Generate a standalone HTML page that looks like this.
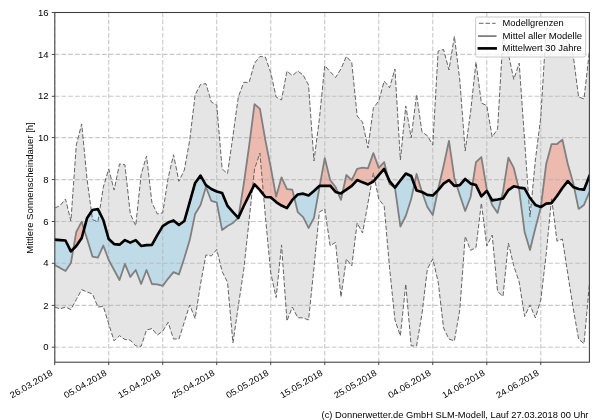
<!DOCTYPE html>
<html><head><meta charset="utf-8"><title>Sonnenscheindauer</title>
<style>html,body{margin:0;padding:0;background:#fff;overflow:hidden}svg{display:block}text{font-family:"Liberation Sans",sans-serif;fill:#000}</style></head>
<body><svg width="600" height="420" viewBox="0 0 600 420">
<rect x="0" y="0" width="600" height="420" fill="#fff"/>
<defs><filter id="soft" x="0" y="0" width="600" height="420" filterUnits="userSpaceOnUse"><feGaussianBlur stdDeviation="0.35"/></filter><clipPath id="ax"><rect x="54.7" y="12.5" width="534.7" height="349.7"/></clipPath></defs>
<g filter="url(#soft)">
<g clip-path="url(#ax)">
<path d="M54.7 208.08 L60.1 205.57 L65.5 199.09 L70.9 221.05 L76.3 144.9 L81.71 123.98 L87.11 179.84 L92.51 219.59 L97.91 221.89 L103.31 187.16 L108.71 168.96 L114.11 190.09 L119.51 163.94 L124.91 164.78 L130.31 213.94 L135.72 225.65 L141.12 174.61 L146.52 155.99 L151.92 202.64 L157.32 213.94 L162.72 212.89 L168.12 178.17 L173.52 154.74 L178.92 181.3 L184.32 170.01 L189.73 140.09 L195.13 94.9 L200.53 84.44 L205.93 83.61 L211.33 102.02 L216.73 104.95 L222.13 168.96 L227.53 173.56 L232.93 135.91 L238.33 97 L243.74 82.35 L249.14 82.35 L254.54 63.11 L259.94 56.41 L265.34 57.04 L270.74 72.52 L276.14 97 L281.54 99.93 L286.94 71.06 L292.34 75.66 L297.75 71.06 L303.15 75.03 L308.55 85.07 L313.95 161.01 L319.35 119.17 L324.75 65.62 L330.15 71.68 L335.55 77.54 L340.95 68.96 L346.35 56.41 L351.76 62.48 L357.16 116.03 L362.56 122.1 L367.96 148.04 L373.36 108.08 L378.76 100.97 L384.16 81.1 L389.56 87.79 L394.96 68.96 L400.36 159.97 L405.77 105.99 L411.17 138 L416.57 94.49 L421.97 131.93 L427.37 135.7 L432.77 144.9 L438.17 50.97 L443.57 49.51 L448.97 70.01 L454.37 36.33 L459.78 80.05 L465.18 150.97 L470.58 112.06 L475.98 62.06 L481.38 103.06 L486.78 105.57 L492.18 136.95 L497.58 129 L502.98 37.37 L508.38 53.9 L513.79 79.42 L519.19 63.11 L524.59 140.09 L529.99 217.08 L535.39 159.97 L540.79 117.08 L546.19 28.38 L551.59 29.22 L556.99 33.4 L562.39 37.58 L567.8 41.77 L573.2 55.37 L578.6 97 L584 98.88 L589.4 51.18 L589.4 284.02 L584 343.64 L578.6 339.04 L573.2 308.08 L567.8 273.98 L562.39 239.04 L556.99 241.14 L551.59 198.04 L546.19 254.11 L540.79 299.92 L535.39 317.91 L529.99 304.94 L524.59 316.45 L519.19 281.93 L513.79 266.03 L508.38 243.02 L502.98 296.36 L497.58 291.55 L492.18 235.07 L486.78 245.95 L481.38 203.06 L475.98 247.62 L470.58 250.34 L465.18 236.32 L459.78 309.96 L454.37 340.92 L448.97 339.04 L443.57 327.95 L438.17 281.93 L432.77 258.92 L427.37 268.96 L421.97 313.94 L416.57 345.94 L411.17 345.94 L405.77 284.02 L400.36 335.9 L394.96 320 L389.56 267.91 L384.16 205.99 L378.76 199.09 L373.36 172.94 L367.96 203.06 L362.56 232.98 L357.16 222.94 L351.76 266.03 L346.35 258.92 L340.95 296.99 L335.55 242.39 L330.15 245.74 L324.75 208.92 L319.35 212.06 L313.95 267.91 L308.55 320 L303.15 317.91 L297.75 317.7 L292.34 307.03 L286.94 321.05 L281.54 244.9 L276.14 297.62 L270.74 272.93 L265.34 216.03 L259.94 153.06 L254.54 168.96 L249.14 220.01 L243.74 269.8 L238.33 305.99 L232.93 343.02 L227.53 282.35 L222.13 271.47 L216.73 249.5 L211.33 255.99 L205.93 254.94 L200.53 284.02 L195.13 318.54 L189.73 304.94 L184.32 322.1 L178.92 339.04 L173.52 339.04 L168.12 322.31 L162.72 331.09 L157.32 335.07 L151.92 328.58 L146.52 330.05 L141.12 346.36 L135.72 345.94 L130.31 340.09 L124.91 339.46 L119.51 335.69 L114.11 340.92 L108.71 323.98 L103.31 306.41 L97.91 307.03 L92.51 294.06 L87.11 291.97 L81.71 289.67 L76.3 299.5 L70.9 309.54 L65.5 307.03 L60.1 308.92 L54.7 307.03Z" fill="rgb(204,204,204)" fill-opacity="0.5"/>
<path d="M54.7 264.98 L60.1 267.91 L65.5 271.05 L70.9 263.1 L73.36 248.91 L73.36 248.91 L70.9 251.39 L65.5 240.51 L60.1 240.09 L54.7 239.67ZM84.06 229.25 L87.11 239.04 L92.51 256.62 L97.91 257.66 L103.31 245.53 L108.71 259.96 L114.11 270.01 L119.51 280.05 L124.91 263.94 L130.31 276.91 L135.72 270.01 L141.12 284.02 L146.52 270.01 L151.92 284.02 L157.32 284.44 L162.72 285.9 L168.12 278.58 L173.52 272.1 L178.92 274.4 L184.32 258.08 L189.73 240.09 L195.13 213.94 L200.53 204.94 L205.93 186.95 L211.33 200.97 L216.73 202.43 L222.13 230.05 L227.53 226.07 L232.93 222.94 L238.33 217.91 L238.33 217.91 L232.93 212.06 L227.53 205.99 L222.13 193.02 L216.73 191.56 L211.33 189.04 L205.93 185.07 L200.53 175.66 L195.13 182.98 L189.73 202.02 L184.32 221.05 L178.92 225.03 L173.52 220.42 L168.12 222.52 L162.72 226.07 L157.32 235.07 L151.92 244.9 L146.52 245.11 L141.12 245.95 L135.72 240.09 L130.31 242.6 L124.91 240.09 L119.51 244.69 L114.11 244.06 L108.71 239.04 L103.31 220.01 L97.91 209.13 L92.51 209.96 L87.11 217.91 L84.06 229.25ZM294.33 197.92 L297.75 212.06 L303.15 217.08 L308.55 227.96 L313.95 217.91 L319.35 188 L319.73 185.91 L319.73 185.91 L319.35 185.91 L313.95 190.93 L308.55 195.53 L303.15 193.65 L297.75 194.48 L294.33 197.92ZM337.91 192.61 L340.95 199.92 L342.61 192.28 L342.61 192.28 L340.95 193.44 L337.91 192.61ZM387.95 177.48 L389.56 184.02 L394.96 187.58 L394.96 187.58 L389.56 181.1 L387.95 177.48ZM394.96 187.58 L400.36 226.49 L405.77 216.03 L411.17 199.09 L414.31 184.48 L414.31 184.48 L411.17 176.07 L405.77 173.56 L400.36 180.47 L394.96 187.58ZM421.97 191.97 L427.37 207.04 L432.77 214.99 L437.9 190.37 L437.9 190.37 L432.77 195.53 L427.37 194.9 L421.97 191.97ZM456.79 185.53 L459.78 194.9 L465.18 211.01 L470.58 196.99 L472.56 184.14 L472.56 184.14 L470.58 183.61 L465.18 179 L459.78 185.07 L456.79 185.53ZM488.08 193.2 L492.18 204.94 L497.58 212.89 L501.22 198.8 L501.22 198.8 L497.58 199.5 L492.18 200.34 L488.08 193.2ZM518.54 187.43 L519.19 190.09 L524.59 231.93 L529.99 249.92 L535.39 227.96 L540.79 207.45 L540.85 207 L540.85 207 L540.79 207.04 L535.39 204.94 L529.99 198.04 L524.59 188.42 L519.19 187.58 L518.54 187.43ZM574.1 187.3 L578.6 208.92 L584 204.94 L589.4 191.97 L589.4 176.07 L584 189.67 L578.6 189.04 L574.1 187.3Z" fill="rgb(135,206,235)" fill-opacity="0.4"/>
<path d="M73.36 248.91 L76.3 231.93 L81.71 221.68 L84.06 229.25 L84.06 229.25 L81.71 238 L76.3 245.95 L73.36 248.91ZM238.33 217.91 L243.74 184.02 L249.14 145.95 L254.54 104.11 L259.94 108.92 L265.34 140.09 L270.74 167.29 L276.14 196.58 L281.54 177.33 L286.94 189.04 L292.34 189.67 L294.33 197.92 L294.33 197.92 L292.34 199.92 L286.94 208.08 L281.54 205.57 L276.14 202.02 L270.74 197.2 L265.34 196.99 L259.94 190.09 L254.54 184.44 L249.14 195.11 L243.74 205.99 L238.33 217.91ZM319.73 185.91 L324.75 158.08 L330.15 180.05 L335.55 186.95 L337.91 192.61 L337.91 192.61 L335.55 191.97 L330.15 185.7 L324.75 185.91 L319.73 185.91ZM342.61 192.28 L346.35 175.03 L351.76 180.05 L357.16 168.96 L362.56 167.71 L367.96 168.33 L373.36 153.06 L378.76 167.92 L384.16 162.06 L387.95 177.48 L387.95 177.48 L384.16 168.96 L378.76 175.03 L373.36 181.51 L367.96 184.44 L362.56 182.35 L357.16 180.05 L351.76 185.91 L346.35 189.67 L342.61 192.28ZM414.31 184.48 L416.57 173.98 L421.97 191.97 L421.97 191.97 L416.57 190.51 L414.31 184.48ZM437.9 190.37 L438.17 189.04 L443.57 166.03 L448.97 140.93 L454.37 177.96 L456.79 185.53 L456.79 185.53 L454.37 185.91 L448.97 180.05 L443.57 183.61 L438.17 190.09 L437.9 190.37ZM472.56 184.14 L475.98 162.06 L481.38 157.04 L486.78 189.46 L488.08 193.2 L488.08 193.2 L486.78 190.93 L481.38 196.37 L475.98 185.07 L472.56 184.14ZM501.22 198.8 L502.98 191.97 L508.38 157.66 L513.79 167.92 L518.54 187.43 L518.54 187.43 L513.79 186.33 L508.38 190.09 L502.98 198.46 L501.22 198.8ZM540.85 207 L546.19 163.94 L551.59 144.07 L556.99 144.07 L562.39 139.67 L567.8 163.94 L573.2 182.98 L574.1 187.3 L574.1 187.3 L573.2 186.95 L567.8 181.1 L562.39 188 L556.99 195.95 L551.59 203.06 L546.19 203.69 L540.85 207Z" fill="rgb(248,122,92)" fill-opacity="0.4"/>
<path d="M54.7 362.2 V12.5M108.71 362.2 V12.5M162.72 362.2 V12.5M216.73 362.2 V12.5M270.74 362.2 V12.5M324.75 362.2 V12.5M378.76 362.2 V12.5M432.77 362.2 V12.5M486.78 362.2 V12.5M540.79 362.2 V12.5M54.7 347.2 H589.4M54.7 305.4 H589.4M54.7 263.3 H589.4M54.7 221.5 H589.4M54.7 179.6 H589.4M54.7 137.6 H589.4M54.7 96.3 H589.4M54.7 54.4 H589.4M54.7 12.5 H589.4" fill="none" stroke="rgb(176,176,176)" stroke-opacity="0.7" stroke-width="1.1" stroke-dasharray="4.7 2.06"/>
<path d="M54.7 208.08 L60.1 205.57 L65.5 199.09 L70.9 221.05 L76.3 144.9 L81.71 123.98 L87.11 179.84 L92.51 219.59 L97.91 221.89 L103.31 187.16 L108.71 168.96 L114.11 190.09 L119.51 163.94 L124.91 164.78 L130.31 213.94 L135.72 225.65 L141.12 174.61 L146.52 155.99 L151.92 202.64 L157.32 213.94 L162.72 212.89 L168.12 178.17 L173.52 154.74 L178.92 181.3 L184.32 170.01 L189.73 140.09 L195.13 94.9 L200.53 84.44 L205.93 83.61 L211.33 102.02 L216.73 104.95 L222.13 168.96 L227.53 173.56 L232.93 135.91 L238.33 97 L243.74 82.35 L249.14 82.35 L254.54 63.11 L259.94 56.41 L265.34 57.04 L270.74 72.52 L276.14 97 L281.54 99.93 L286.94 71.06 L292.34 75.66 L297.75 71.06 L303.15 75.03 L308.55 85.07 L313.95 161.01 L319.35 119.17 L324.75 65.62 L330.15 71.68 L335.55 77.54 L340.95 68.96 L346.35 56.41 L351.76 62.48 L357.16 116.03 L362.56 122.1 L367.96 148.04 L373.36 108.08 L378.76 100.97 L384.16 81.1 L389.56 87.79 L394.96 68.96 L400.36 159.97 L405.77 105.99 L411.17 138 L416.57 94.49 L421.97 131.93 L427.37 135.7 L432.77 144.9 L438.17 50.97 L443.57 49.51 L448.97 70.01 L454.37 36.33 L459.78 80.05 L465.18 150.97 L470.58 112.06 L475.98 62.06 L481.38 103.06 L486.78 105.57 L492.18 136.95 L497.58 129 L502.98 37.37 L508.38 53.9 L513.79 79.42 L519.19 63.11 L524.59 140.09 L529.99 217.08 L535.39 159.97 L540.79 117.08 L546.19 28.38 L551.59 29.22 L556.99 33.4 L562.39 37.58 L567.8 41.77 L573.2 55.37 L578.6 97 L584 98.88 L589.4 51.18" fill="none" stroke="rgb(100,100,100)" stroke-width="1.0" stroke-dasharray="4.6 2.0" stroke-linejoin="round"/>
<path d="M54.7 307.03 L60.1 308.92 L65.5 307.03 L70.9 309.54 L76.3 299.5 L81.71 289.67 L87.11 291.97 L92.51 294.06 L97.91 307.03 L103.31 306.41 L108.71 323.98 L114.11 340.92 L119.51 335.69 L124.91 339.46 L130.31 340.09 L135.72 345.94 L141.12 346.36 L146.52 330.05 L151.92 328.58 L157.32 335.07 L162.72 331.09 L168.12 322.31 L173.52 339.04 L178.92 339.04 L184.32 322.1 L189.73 304.94 L195.13 318.54 L200.53 284.02 L205.93 254.94 L211.33 255.99 L216.73 249.5 L222.13 271.47 L227.53 282.35 L232.93 343.02 L238.33 305.99 L243.74 269.8 L249.14 220.01 L254.54 168.96 L259.94 153.06 L265.34 216.03 L270.74 272.93 L276.14 297.62 L281.54 244.9 L286.94 321.05 L292.34 307.03 L297.75 317.7 L303.15 317.91 L308.55 320 L313.95 267.91 L319.35 212.06 L324.75 208.92 L330.15 245.74 L335.55 242.39 L340.95 296.99 L346.35 258.92 L351.76 266.03 L357.16 222.94 L362.56 232.98 L367.96 203.06 L373.36 172.94 L378.76 199.09 L384.16 205.99 L389.56 267.91 L394.96 320 L400.36 335.9 L405.77 284.02 L411.17 345.94 L416.57 345.94 L421.97 313.94 L427.37 268.96 L432.77 258.92 L438.17 281.93 L443.57 327.95 L448.97 339.04 L454.37 340.92 L459.78 309.96 L465.18 236.32 L470.58 250.34 L475.98 247.62 L481.38 203.06 L486.78 245.95 L492.18 235.07 L497.58 291.55 L502.98 296.36 L508.38 243.02 L513.79 266.03 L519.19 281.93 L524.59 316.45 L529.99 304.94 L535.39 317.91 L540.79 299.92 L546.19 254.11 L551.59 198.04 L556.99 241.14 L562.39 239.04 L567.8 273.98 L573.2 308.08 L578.6 339.04 L584 343.64 L589.4 284.02" fill="none" stroke="rgb(100,100,100)" stroke-width="1.0" stroke-dasharray="4.6 2.0" stroke-linejoin="round"/>
<path d="M54.7 264.98 L60.1 267.91 L65.5 271.05 L70.9 263.1 L76.3 231.93 L81.71 221.68 L87.11 239.04 L92.51 256.62 L97.91 257.66 L103.31 245.53 L108.71 259.96 L114.11 270.01 L119.51 280.05 L124.91 263.94 L130.31 276.91 L135.72 270.01 L141.12 284.02 L146.52 270.01 L151.92 284.02 L157.32 284.44 L162.72 285.9 L168.12 278.58 L173.52 272.1 L178.92 274.4 L184.32 258.08 L189.73 240.09 L195.13 213.94 L200.53 204.94 L205.93 186.95 L211.33 200.97 L216.73 202.43 L222.13 230.05 L227.53 226.07 L232.93 222.94 L238.33 217.91 L243.74 184.02 L249.14 145.95 L254.54 104.11 L259.94 108.92 L265.34 140.09 L270.74 167.29 L276.14 196.58 L281.54 177.33 L286.94 189.04 L292.34 189.67 L297.75 212.06 L303.15 217.08 L308.55 227.96 L313.95 217.91 L319.35 188 L324.75 158.08 L330.15 180.05 L335.55 186.95 L340.95 199.92 L346.35 175.03 L351.76 180.05 L357.16 168.96 L362.56 167.71 L367.96 168.33 L373.36 153.06 L378.76 167.92 L384.16 162.06 L389.56 184.02 L394.96 187.58 L400.36 226.49 L405.77 216.03 L411.17 199.09 L416.57 173.98 L421.97 191.97 L427.37 207.04 L432.77 214.99 L438.17 189.04 L443.57 166.03 L448.97 140.93 L454.37 177.96 L459.78 194.9 L465.18 211.01 L470.58 196.99 L475.98 162.06 L481.38 157.04 L486.78 189.46 L492.18 204.94 L497.58 212.89 L502.98 191.97 L508.38 157.66 L513.79 167.92 L519.19 190.09 L524.59 231.93 L529.99 249.92 L535.39 227.96 L540.79 207.45 L546.19 163.94 L551.59 144.07 L556.99 144.07 L562.39 139.67 L567.8 163.94 L573.2 182.98 L578.6 208.92 L584 204.94 L589.4 191.97" fill="none" stroke="rgb(128,128,128)" stroke-width="1.8" stroke-linejoin="round" stroke-linecap="square"/>
<path d="M54.7 239.67 L60.1 240.09 L65.5 240.51 L70.9 251.39 L76.3 245.95 L81.71 238 L87.11 217.91 L92.51 209.96 L97.91 209.13 L103.31 220.01 L108.71 239.04 L114.11 244.06 L119.51 244.69 L124.91 240.09 L130.31 242.6 L135.72 240.09 L141.12 245.95 L146.52 245.11 L151.92 244.9 L157.32 235.07 L162.72 226.07 L168.12 222.52 L173.52 220.42 L178.92 225.03 L184.32 221.05 L189.73 202.02 L195.13 182.98 L200.53 175.66 L205.93 185.07 L211.33 189.04 L216.73 191.56 L222.13 193.02 L227.53 205.99 L232.93 212.06 L238.33 217.91 L243.74 205.99 L249.14 195.11 L254.54 184.44 L259.94 190.09 L265.34 196.99 L270.74 197.2 L276.14 202.02 L281.54 205.57 L286.94 208.08 L292.34 199.92 L297.75 194.48 L303.15 193.65 L308.55 195.53 L313.95 190.93 L319.35 185.91 L324.75 185.91 L330.15 185.7 L335.55 191.97 L340.95 193.44 L346.35 189.67 L351.76 185.91 L357.16 180.05 L362.56 182.35 L367.96 184.44 L373.36 181.51 L378.76 175.03 L384.16 168.96 L389.56 181.1 L394.96 187.58 L400.36 180.47 L405.77 173.56 L411.17 176.07 L416.57 190.51 L421.97 191.97 L427.37 194.9 L432.77 195.53 L438.17 190.09 L443.57 183.61 L448.97 180.05 L454.37 185.91 L459.78 185.07 L465.18 179 L470.58 183.61 L475.98 185.07 L481.38 196.37 L486.78 190.93 L492.18 200.34 L497.58 199.5 L502.98 198.46 L508.38 190.09 L513.79 186.33 L519.19 187.58 L524.59 188.42 L529.99 198.04 L535.39 204.94 L540.79 207.04 L546.19 203.69 L551.59 203.06 L556.99 195.95 L562.39 188 L567.8 181.1 L573.2 186.95 L578.6 189.04 L584 189.67 L589.4 176.07" fill="none" stroke="#000" stroke-width="2.65" stroke-linejoin="round" stroke-linecap="square"/>
</g>
<rect x="54.8" y="12.5" width="534.6" height="349.7" fill="none" stroke="#3a3a3a" stroke-width="1.05"/>
<path d="M54.7 362.2 v2.9M108.71 362.2 v2.9M162.72 362.2 v2.9M216.73 362.2 v2.9M270.74 362.2 v2.9M324.75 362.2 v2.9M378.76 362.2 v2.9M432.77 362.2 v2.9M486.78 362.2 v2.9M540.79 362.2 v2.9M54.7 347.2 h-2.9M54.7 305.4 h-2.9M54.7 263.3 h-2.9M54.7 221.5 h-2.9M54.7 179.6 h-2.9M54.7 137.6 h-2.9M54.7 96.3 h-2.9M54.7 54.4 h-2.9M54.7 12.5 h-2.9" fill="none" stroke="#333" stroke-width="0.9"/>
<text x="48.6" y="350.3" font-size="8.8" text-anchor="end" textLength="5.3" lengthAdjust="spacingAndGlyphs">0</text>
<text x="48.6" y="308.5" font-size="8.8" text-anchor="end" textLength="5.3" lengthAdjust="spacingAndGlyphs">2</text>
<text x="48.6" y="266.4" font-size="8.8" text-anchor="end" textLength="5.3" lengthAdjust="spacingAndGlyphs">4</text>
<text x="48.6" y="224.6" font-size="8.8" text-anchor="end" textLength="5.3" lengthAdjust="spacingAndGlyphs">6</text>
<text x="48.6" y="182.7" font-size="8.8" text-anchor="end" textLength="5.3" lengthAdjust="spacingAndGlyphs">8</text>
<text x="48.6" y="140.7" font-size="8.8" text-anchor="end" textLength="10.6" lengthAdjust="spacingAndGlyphs">10</text>
<text x="48.6" y="99.4" font-size="8.8" text-anchor="end" textLength="10.6" lengthAdjust="spacingAndGlyphs">12</text>
<text x="48.6" y="57.5" font-size="8.8" text-anchor="end" textLength="10.6" lengthAdjust="spacingAndGlyphs">14</text>
<text x="48.6" y="15.6" font-size="8.8" text-anchor="end" textLength="10.6" lengthAdjust="spacingAndGlyphs">16</text>
<text transform="translate(53.4 374.7) rotate(-30)" font-size="8.8" text-anchor="end" textLength="47.71" lengthAdjust="spacingAndGlyphs">26.03.2018</text>
<text transform="translate(107.41 374.7) rotate(-30)" font-size="8.8" text-anchor="end" textLength="47.71" lengthAdjust="spacingAndGlyphs">05.04.2018</text>
<text transform="translate(161.42 374.7) rotate(-30)" font-size="8.8" text-anchor="end" textLength="47.71" lengthAdjust="spacingAndGlyphs">15.04.2018</text>
<text transform="translate(215.43 374.7) rotate(-30)" font-size="8.8" text-anchor="end" textLength="47.71" lengthAdjust="spacingAndGlyphs">25.04.2018</text>
<text transform="translate(269.44 374.7) rotate(-30)" font-size="8.8" text-anchor="end" textLength="47.71" lengthAdjust="spacingAndGlyphs">05.05.2018</text>
<text transform="translate(323.45 374.7) rotate(-30)" font-size="8.8" text-anchor="end" textLength="47.71" lengthAdjust="spacingAndGlyphs">15.05.2018</text>
<text transform="translate(377.46 374.7) rotate(-30)" font-size="8.8" text-anchor="end" textLength="47.71" lengthAdjust="spacingAndGlyphs">25.05.2018</text>
<text transform="translate(431.47 374.7) rotate(-30)" font-size="8.8" text-anchor="end" textLength="47.71" lengthAdjust="spacingAndGlyphs">04.06.2018</text>
<text transform="translate(485.48 374.7) rotate(-30)" font-size="8.8" text-anchor="end" textLength="47.71" lengthAdjust="spacingAndGlyphs">14.06.2018</text>
<text transform="translate(539.49 374.7) rotate(-30)" font-size="8.8" text-anchor="end" textLength="47.71" lengthAdjust="spacingAndGlyphs">24.06.2018</text>
<text transform="translate(32.5 188.0) rotate(-90)" font-size="8.8" text-anchor="middle" textLength="131.46" lengthAdjust="spacingAndGlyphs">Mittlere Sonnenscheindauer [h]</text>
<text x="588.5" y="417.6" font-size="8.8" text-anchor="end" textLength="266.93" lengthAdjust="spacingAndGlyphs">(c) Donnerwetter.de GmbH SLM-Modell, Lauf 27.03.2018 00 Uhr</text>
<rect x="475.6" y="17" width="110" height="40" rx="1.7" ry="1.7" fill="#fff" fill-opacity="0.8" stroke="rgb(200,200,200)" stroke-opacity="1" stroke-width="0.95"/>
<path d="M478.9 23.3 H495.6" fill="none" stroke="rgb(100,100,100)" stroke-width="1.0" stroke-dasharray="4.6 2.0"/>
<path d="M478.9 36.1 H495.6" fill="none" stroke="rgb(128,128,128)" stroke-width="1.8" stroke-linecap="square"/>
<path d="M478.9 48.4 H495.6" fill="none" stroke="#000" stroke-width="2.65" stroke-linecap="square"/>
<text x="502.6" y="26.2" font-size="8.8" textLength="61.06" lengthAdjust="spacingAndGlyphs">Modellgrenzen</text>
<text x="502.6" y="38.8" font-size="8.8" textLength="79.53" lengthAdjust="spacingAndGlyphs">Mittel aller Modelle</text>
<text x="502.6" y="51.2" font-size="8.8" textLength="79.24" lengthAdjust="spacingAndGlyphs">Mittelwert 30 Jahre</text>
</g></svg></body></html>
